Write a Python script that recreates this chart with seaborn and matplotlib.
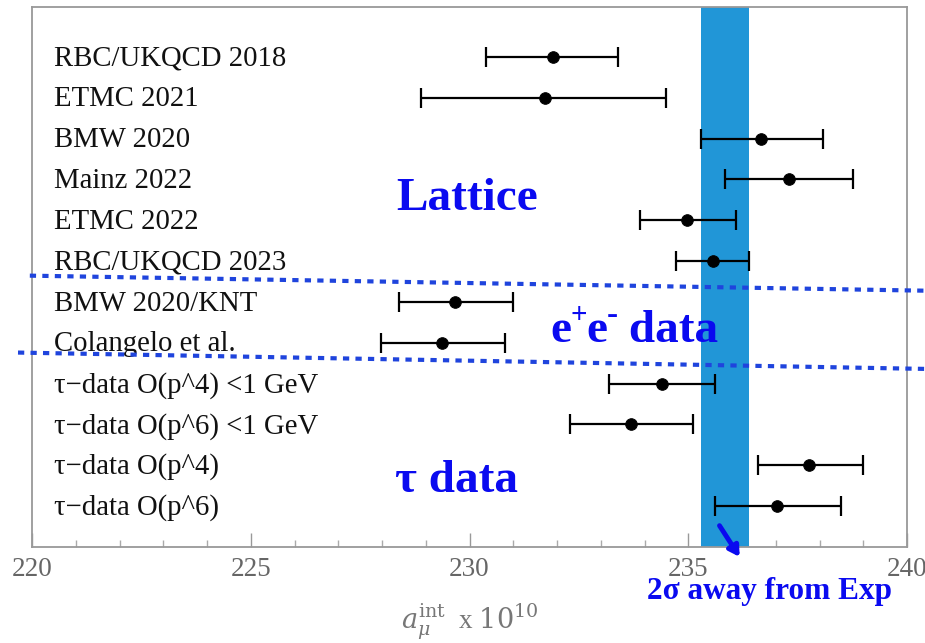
import matplotlib
matplotlib.use("Agg")
import matplotlib.pyplot as plt
from matplotlib.ticker import MultipleLocator
from matplotlib.transforms import offset_copy
import seaborn as sns
import pandas as pd
import numpy as np

labels = ["RBC/UKQCD 2018", "ETMC 2021", "BMW 2020", "Mainz 2022", "ETMC 2022",
          "RBC/UKQCD 2023", "BMW 2020/KNT", "Colangelo et al.",
          "τ−data O(p^4) <1 GeV", "τ−data O(p^6) <1 GeV", "τ−data O(p^4)", "τ−data O(p^6)"]
centers = [231.9, 231.72, 236.67, 237.31, 234.98, 235.57, 229.66, 229.38, 234.39, 233.70, 237.77, 237.02]
lows = [230.38, 228.88, 235.28, 235.83, 233.90, 234.73, 228.39, 227.98, 233.19, 232.29, 236.59, 235.60]
highs = [233.40, 234.49, 238.09, 238.76, 236.10, 236.38, 230.99, 230.80, 235.60, 235.10, 239.00, 238.50]
band = (235.28, 236.38)

df = pd.DataFrame({"label": labels, "x": centers, "lo": lows, "hi": highs})
df["row"] = np.arange(len(df))

sns.set_style("white")
plt.rcParams["font.family"] = ["Liberation Serif", "DejaVu Serif"]
plt.rcParams["mathtext.fontset"] = "dejavuserif"

fig = plt.figure(figsize=(9.25, 6.43), dpi=100)
ax = fig.add_axes([32/925, 1-547/643, 875/925, 540/643])

ax.axvspan(band[0], band[1], color="#2196d7", zorder=1, lw=0)

ax.errorbar(df["x"], df["row"], xerr=[df["x"]-df["lo"], df["hi"]-df["x"]],
            fmt="none", ecolor="black", elinewidth=1.6, capsize=7, capthick=1.6, zorder=3)
sns.scatterplot(data=df, x="x", y="row", ax=ax, color="black", s=70, edgecolor="black",
                zorder=4, legend=False)

for r, lab in zip(df["row"], df["label"]):
    ax.text(220.5, r + 0.04, lab, ha="left", va="center", fontsize=20.7, color="#111111", zorder=5)

ax.set_xlim(220, 240)
ax.set_ylim(12.0, -1.22)
ax.set_yticks([])
ax.set_ylabel("")
ax.xaxis.set_major_locator(MultipleLocator(5))
ax.xaxis.set_minor_locator(MultipleLocator(1))
ax.tick_params(axis="x", which="major", direction="in", length=10, width=1, color="#999999",
               labelsize=19.5, labelcolor="#666666", pad=7, bottom=True)
ax.tick_params(axis="x", which="minor", direction="in", length=5, width=1, color="#aaaaaa", bottom=True)
for s in ax.spines.values():
    s.set_color("#999999")
    s.set_linewidth(1.3)
ax.set_xlabel(r"$a_\mu^{\mathrm{int}}$  x $10^{10}$", fontsize=19.5, color="#777777", labelpad=14)

# dotted separators
ax.plot([219.95, 240.41], [5.357, 5.725], color="#1f44dd", lw=3.0,
        linestyle=(0, (1.5, 1.5)), clip_on=False, zorder=6)
ax.plot([219.68, 240.41], [7.24, 7.64], color="#1f44dd", lw=3.0,
        linestyle=(0, (1.5, 1.5)), clip_on=False, zorder=6)

blue = "#0a0af0"
big = 34
ax.text(229.94, 3.47, "Lattice", ha="center", va="center", fontsize=big, fontweight="bold", color=blue, zorder=7)
ax.text(229.7, 10.39, "τ data", ha="center", va="center", fontsize=big, fontweight="bold", color=blue, zorder=7)

# e+e- data built from pieces
fig.canvas.draw()
renderer = fig.canvas.get_renderer()
x0, y0 = 231.84, 6.71
pieces = [("e", big, 0), ("+", 21, 11), ("e", big, 0), ("-", 24, 11), (" data", big, 0)]
xoff = 0.0
for txt, fs, dy in pieces:
    tr = offset_copy(ax.transData, fig=fig, x=xoff, y=dy, units="points")
    t = ax.text(x0, y0, txt, ha="left", va="center", fontsize=fs, fontweight="bold",
                color=blue, zorder=7, transform=tr)
    bb = t.get_window_extent(renderer=renderer)
    xoff += bb.width * 72 / fig.dpi - (1.0 if txt in "+-" else 0)

ax.text(236.85, 13.1, "2σ away from Exp", ha="center", va="center", fontsize=22.5, fontweight="bold",
        color=blue, zorder=7, clip_on=False)
ax.annotate("", xy=(236.21, 12.3), xytext=(235.68, 11.42),
            arrowprops=dict(arrowstyle="-|>,head_length=0.6,head_width=0.35", color=blue, lw=3.5),
            annotation_clip=False, zorder=7)

fig.savefig("out.png", dpi=100)
